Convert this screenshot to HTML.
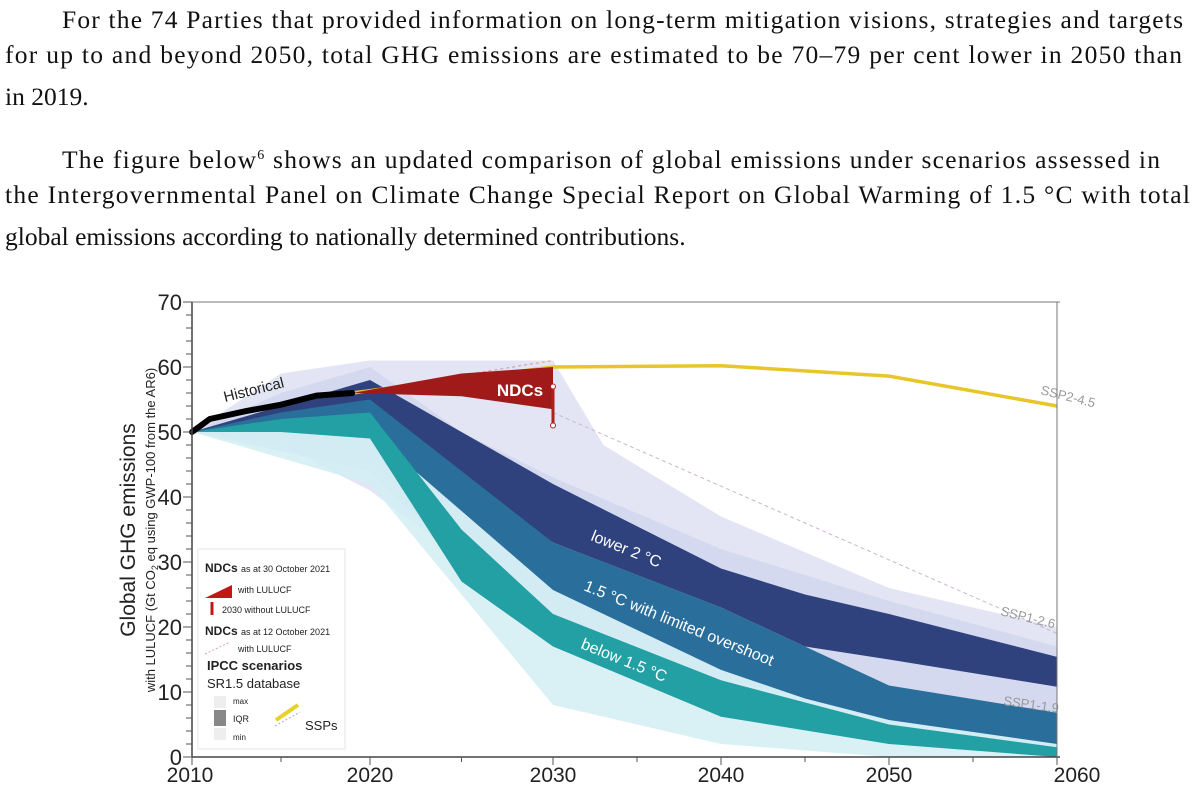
<!DOCTYPE html>
<html><head><meta charset="utf-8">
<style>
html,body{margin:0;padding:0;background:#fff;}
svg{display:block;}
.body{font-family:"Liberation Serif",serif;font-size:25.5px;fill:#111;}
.ax{font-family:"Liberation Sans",sans-serif;}
</style></head>
<body>
<svg id="fig" width="1200" height="797" viewBox="0 0 1200 797" xmlns="http://www.w3.org/2000/svg">
<g>
<text class="body" x="62" y="28" textLength="1121" lengthAdjust="spacing">For the 74 Parties that provided information on long-term mitigation visions, strategies and targets</text>
<text class="body" x="5" y="63" textLength="1177" lengthAdjust="spacing">for up to and beyond 2050, total GHG emissions are estimated to be 70–79 per cent lower in 2050 than</text>
<text class="body" x="5" y="105">in 2019.</text>
</g>
<g>
<text class="body" x="62" y="168" textLength="1098" lengthAdjust="spacing">The figure below<tspan dy="-9" font-size="14">6</tspan><tspan dy="9"> shows an updated comparison of global emissions under scenarios assessed in</tspan></text>
<text class="body" x="5" y="203" textLength="1185" lengthAdjust="spacing">the Intergovernmental Panel on Climate Change Special Report on Global Warming of 1.5 °C with total</text>
<text class="body" x="5" y="245">global emissions according to nationally determined contributions.</text>
</g>
<g id="chart"></g>
</svg>
<script>
const xTickYears=[2010,2020,2030,2040,2050,2060];
const yTicks=[0,10,20,30,40,50,60,70];
const envYears=[2010,2015,2020,2030,2033,2040,2050,2060];
const envHi=[50,59,61,61,48,37,26,20];
const envLo=[50,48,41,20,17,10,4,0];
const lightYears=[2010,2015,2020,2025,2030,2040,2050,2060];
const lightHi=[50,56,60,50,43,32,24,17];
const lightLo=[50,47,44,30,20,12,6,1];
const cyanYears=[2010,2020,2025,2030,2040,2050,2060];
const cyanHi=[50,50,38,26,14,7,3];
const cyanLo=[50,42,25,8,2,0,0];
const bandYears=[2010,2015,2020,2030,2040,2045,2050,2060];
const l2Hi=[50,54,58,42,29,25,22,15.4];
const l2Lo=[50,51,53,33,23,17,15,10.8];
const l15Hi=[50,53,55,33,23,17,11,6.8];
const l15Lo=[50,51,50,25.7,13.4,9,5.7,2];
const b15Years=[2010,2015,2020,2025,2030,2040,2050,2060];
const b15Hi=[50,52,53,35,22,11.8,5,1.5];
const b15Lo=[50,50,49,27,17,6.2,2,0];
const histYears=[2010,2011,2013,2015,2017,2019];
const histVals=[50,52,53.2,54.2,55.6,56];
const sspYears=[2019,2030,2040,2050,2060];
const sspVals=[56,60,60.2,58.6,54];
const ndcYears=[2019,2025,2030];
const ndcHi=[56,59,60];
const ndcLo=[56,55.5,53.5];
const ndcBar=[57,51];

const NS="http://www.w3.org/2000/svg";
const g=document.getElementById('chart');
const xAnch=[192,370,553,721,889,1057];
function X(yr){let i=Math.min(4,Math.max(0,Math.floor((yr-2010)/10)));return xAnch[i]+(yr-2010-i*10)/10*(xAnch[i+1]-xAnch[i]);}
function Y(v){return 757-v*6.5;}
function el(t,a,p){const e=document.createElementNS(NS,t);for(const k in a)e.setAttribute(k,a[k]);(p||g).appendChild(e);return e;}
function band(ys,lo,hi,fill,op,name){
 let d='M'+ys.map((y,i)=>X(y)+','+Y(hi[i])).join('L');
 d+='L'+ys.slice().reverse().map((y,i)=>X(y)+','+Y(lo[lo.length-1-i])).join('L')+'Z';
 const p=el('path',{d:d,fill:fill,'fill-opacity':op});
 
 
}
function line(ys,vs,attrs,name){
 const p=el('path',Object.assign({d:'M'+ys.map((y,i)=>X(y)+','+Y(vs[i])).join('L'),fill:'none'},attrs));
 
 
}
el('rect',{x:192,y:302,width:865,height:455,fill:'#fff'});
band(envYears,envLo,envHi,'#e3e5f4',1,'all-scenarios-envelope');
band(lightYears,lightLo,lightHi,'#cfd6ee',0.8,'lower-2c-envelope');
band(cyanYears,cyanLo,cyanHi,'#d2eef3',0.85,'below-1-5c-envelope');
band(bandYears,l2Lo,l2Hi,'#2f427d',1,'lower-2c-iqr-band');
band(bandYears,l15Lo,l15Hi,'#2a6e9b',1,'1-5c-limited-overshoot-iqr-band');
band(b15Years,b15Lo,b15Hi,'#22a0a4',1,'below-1-5c-iqr-band');
el('rect',{x:192,y:757,width:870,height:40,fill:'#fff'});
line([2019,2030],[56,61],{stroke:'#d9a0a8','stroke-width':1.2,'stroke-dasharray':'3,3'},'ndc-oct12-line');
line([2030,2060],[53,19],{stroke:'#c8b8cc','stroke-width':1,'stroke-dasharray':'4,3'},'ssp1-2-6-line');
line(sspYears,sspVals,{stroke:'#e8c62a','stroke-width':3.5},'ssp2-4-5-line');
band(ndcYears,ndcLo,ndcHi,'#a11a1a',1,'ndc-wedge');
line([2030,2030],ndcBar,{stroke:'#b02020','stroke-width':3},'ndc-2030-bar');
el('circle',{cx:X(2030),cy:Y(ndcBar[0]),r:2.5,fill:'#fff',stroke:'#b02020'});
el('circle',{cx:X(2030),cy:Y(ndcBar[1]),r:2.5,fill:'#fff',stroke:'#b02020'});
line(histYears,histVals,{stroke:'#000','stroke-width':6,'stroke-linecap':'round'},'historical-line');
function txt(s,x,y,a,name){const t=el('text',Object.assign({x:x,y:y,class:'ax'},a));t.textContent=s;return t;}
txt('NDCs',520,396,{'font-size':17,'font-weight':'bold',fill:'#fff','text-anchor':'middle'},'ndc-label');
txt('Historical',225,402,{'font-size':15,fill:'#222',transform:'rotate(-14 225 402)'},'historical-label');
txt('lower 2 °C',590,540,{'font-size':16,fill:'#fff',transform:'rotate(22 590 540)'},'lower-2c-label');
txt('1.5 °C with limited overshoot',583,590,{'font-size':16,fill:'#fff',transform:'rotate(22 583 590)'},'limited-overshoot-label');
txt('below 1.5 °C',580,648,{'font-size':16,fill:'#fff',transform:'rotate(22 580 648)'},'below-1-5c-label');
txt('SSP2-4.5',1040,394,{'font-size':13,fill:'#999',transform:'rotate(14 1040 394)'},'ssp2-4-5-label');
txt('SSP1-2.6',1000,615,{'font-size':13,fill:'#999',transform:'rotate(14 1000 615)'},'ssp1-2-6-label');
txt('SSP1-1.9',1003,705,{'font-size':13,fill:'#999',transform:'rotate(8 1003 705)'},'ssp1-1-9-label');
el('line',{x1:192,y1:302,x2:192,y2:757,stroke:'#444','stroke-width':1.5});
el('line',{x1:192,y1:757,x2:1060,y2:757,stroke:'#444','stroke-width':1.5});
el('line',{x1:192,y1:302,x2:1060,y2:302,stroke:'#777','stroke-width':1});
el('line',{x1:1057,y1:302,x2:1057,y2:757,stroke:'#777','stroke-width':1});
for(let v=0;v<=70;v+=2){el('line',{x1:v%10?186:183,y1:Y(v),x2:192,y2:Y(v),stroke:'#555'});}
yTicks.forEach(v=>txt(String(v),182,Y(v)+8,{'font-size':22,fill:'#222','text-anchor':'end'},'y-tick-label'));
for(let yr=2010;yr<=2060;yr+=5){el('line',{x1:X(yr),y1:757,x2:X(yr),y2:yr%10?762:765,stroke:'#555'});}
xTickYears.forEach(yr=>txt(String(yr),X(yr)+(yr===2060?20:yr===2010?-2:0),782,{'font-size':21,fill:'#222','text-anchor':'middle'},'x-tick-label'));
txt('Global GHG emissions',135,530,{'font-size':21,fill:'#222','text-anchor':'middle',transform:'rotate(-90 135 530)'},'y-axis-title');
const sub=txt('with LULUCF (Gt CO',155,530,{'font-size':13,fill:'#222','text-anchor':'middle',transform:'rotate(-90 155 530)'},'y-axis-subtitle');
sub.innerHTML='with LULUCF (Gt CO<tspan font-size="9" dy="3">2</tspan><tspan dy="-3"> eq using GWP-100 from the AR6)</tspan>';
const L=el('g',{});


el('rect',{x:198,y:549,width:147,height:200,fill:'#fff',stroke:'#e6e6e6'},L);
function lt(s,x,y,sz,w,name){const t=el('text',{x:x,y:y,class:'ax','font-size':sz,'font-weight':w||'normal',fill:'#222'},L);t.innerHTML=s;}
lt('NDCs <tspan font-size="9" font-weight="normal">as at 30 October 2021</tspan>',205,572,12,'bold','legend-ndc-oct30');
el('path',{d:'M205,598 L232,585 L232,598 Z',fill:'#c01818'},L);
lt('with LULUCF',238,593,9,'normal','legend-with-lulucf');
el('line',{x1:212,y1:602,x2:212,y2:615,stroke:'#c01818','stroke-width':3},L);
lt('2030 without LULUCF',222,613,9,'normal','legend-2030-without-lulucf');
lt('NDCs <tspan font-size="9" font-weight="normal">as at 12 October 2021</tspan>',205,635,12,'bold','legend-ndc-oct12');
el('path',{d:'M205,654 L230,642',stroke:'#d9a0a8','stroke-dasharray':'2,2',fill:'none'},L);
lt('with LULUCF',238,652,9,'normal','legend-with-lulucf-2');
lt('IPCC scenarios',207,670,13,'bold','legend-ipcc');
lt('SR1.5 database',207,688,13,'normal','legend-sr15');
el('rect',{x:214,y:696,width:12,height:12,fill:'#eee'},L);
el('rect',{x:214,y:710,width:12,height:16,fill:'#888'},L);
el('rect',{x:214,y:728,width:12,height:12,fill:'#eee'},L);
lt('max',233,704,8,'normal','legend-max');lt('IQR',233,722,9,'normal','legend-iqr');lt('min',233,740,8,'normal','legend-min');
el('line',{x1:276,y1:720,x2:298,y2:705,stroke:'#e8d22a','stroke-width':4},L);
el('line',{x1:275,y1:726,x2:300,y2:712,stroke:'#a0a8d0','stroke-dasharray':'2,2'},L);
lt('SSPs',305,730,13,'normal','legend-ssps');
</script>
</body></html>
